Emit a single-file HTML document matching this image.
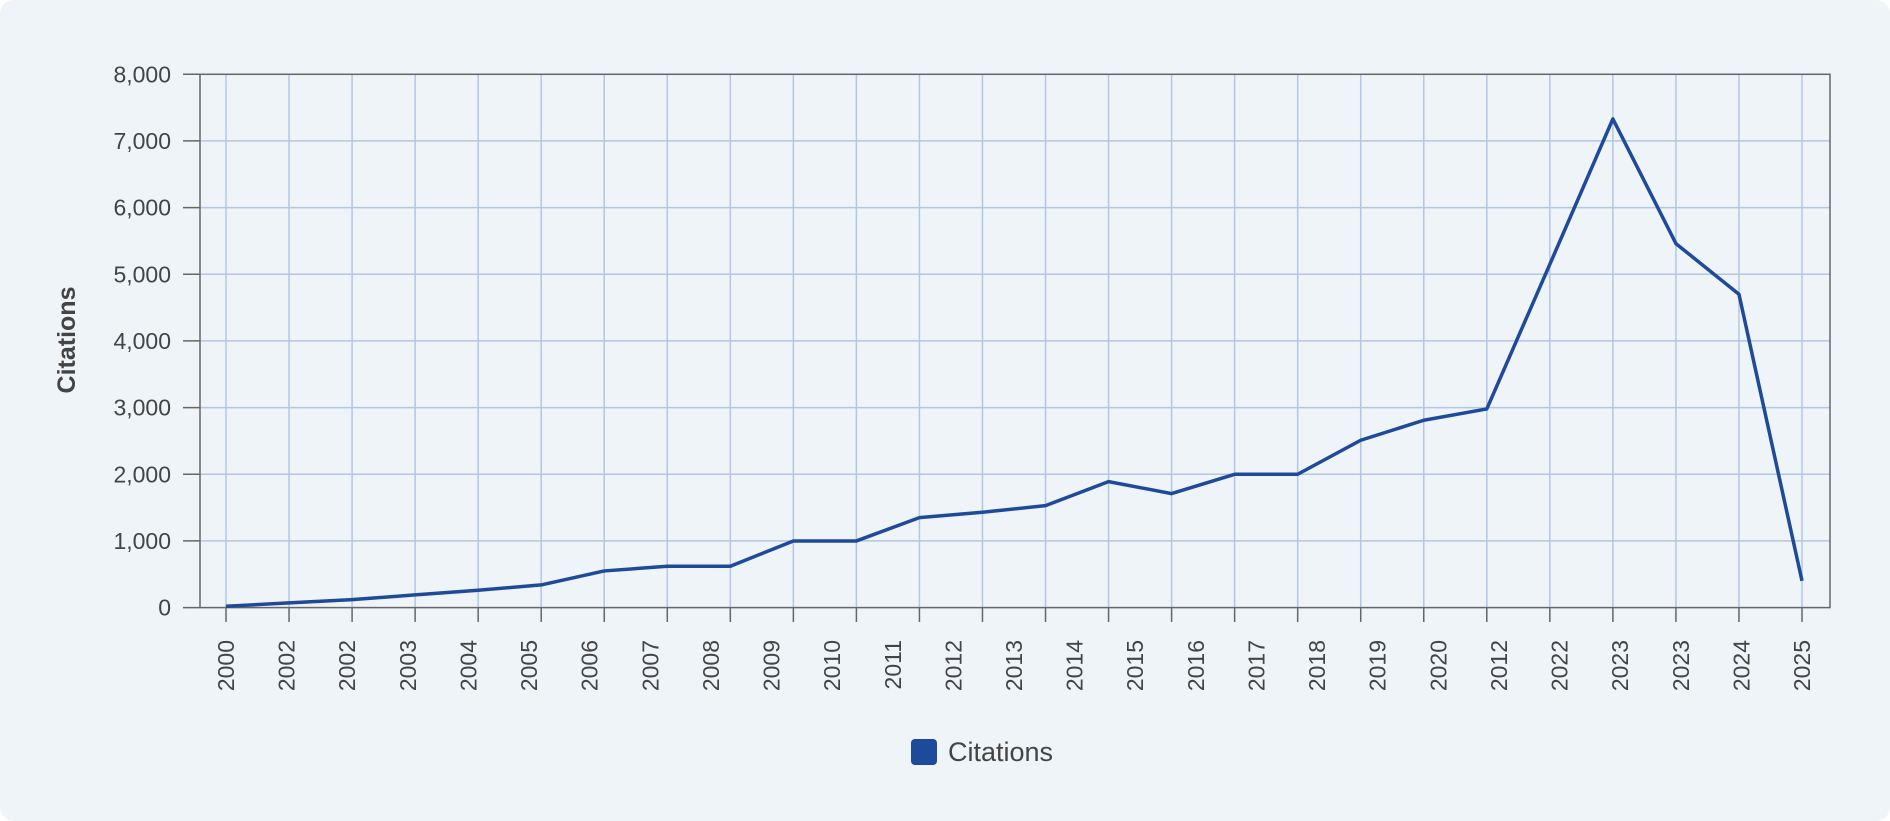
<!DOCTYPE html>
<html><head><meta charset="utf-8"><style>
html,body{margin:0;padding:0;background:#fff;}
.card{position:absolute;left:0;top:0;width:1890px;height:821px;background:#eff4f9;border-radius:14px;}
svg{position:absolute;left:0;top:0;}
text{font-family:"Liberation Sans",sans-serif;fill:#444;}
</style></head><body><div class="card"></div>
<svg width="1890" height="821" viewBox="0 0 1890 821">
<g stroke="#b3c6e2" stroke-width="1.5">
<line x1="226" y1="74.3" x2="226" y2="607.6"/><line x1="289.04" y1="74.3" x2="289.04" y2="607.6"/><line x1="352.08" y1="74.3" x2="352.08" y2="607.6"/><line x1="415.12" y1="74.3" x2="415.12" y2="607.6"/><line x1="478.16" y1="74.3" x2="478.16" y2="607.6"/><line x1="541.2" y1="74.3" x2="541.2" y2="607.6"/><line x1="604.24" y1="74.3" x2="604.24" y2="607.6"/><line x1="667.28" y1="74.3" x2="667.28" y2="607.6"/><line x1="730.32" y1="74.3" x2="730.32" y2="607.6"/><line x1="793.36" y1="74.3" x2="793.36" y2="607.6"/><line x1="856.4" y1="74.3" x2="856.4" y2="607.6"/><line x1="919.44" y1="74.3" x2="919.44" y2="607.6"/><line x1="982.48" y1="74.3" x2="982.48" y2="607.6"/><line x1="1045.52" y1="74.3" x2="1045.52" y2="607.6"/><line x1="1108.56" y1="74.3" x2="1108.56" y2="607.6"/><line x1="1171.6" y1="74.3" x2="1171.6" y2="607.6"/><line x1="1234.64" y1="74.3" x2="1234.64" y2="607.6"/><line x1="1297.68" y1="74.3" x2="1297.68" y2="607.6"/><line x1="1360.72" y1="74.3" x2="1360.72" y2="607.6"/><line x1="1423.76" y1="74.3" x2="1423.76" y2="607.6"/><line x1="1486.8" y1="74.3" x2="1486.8" y2="607.6"/><line x1="1549.84" y1="74.3" x2="1549.84" y2="607.6"/><line x1="1612.88" y1="74.3" x2="1612.88" y2="607.6"/><line x1="1675.92" y1="74.3" x2="1675.92" y2="607.6"/><line x1="1738.96" y1="74.3" x2="1738.96" y2="607.6"/><line x1="1802" y1="74.3" x2="1802" y2="607.6"/>
<line x1="200" y1="540.9" x2="1830" y2="540.9"/><line x1="200" y1="474.3" x2="1830" y2="474.3"/><line x1="200" y1="407.6" x2="1830" y2="407.6"/><line x1="200" y1="340.9" x2="1830" y2="340.9"/><line x1="200" y1="274.3" x2="1830" y2="274.3"/><line x1="200" y1="207.6" x2="1830" y2="207.6"/><line x1="200" y1="140.9" x2="1830" y2="140.9"/>
</g>
<g stroke="#666" stroke-width="1.5">
<line x1="226" y1="607.6" x2="226" y2="622"/><line x1="289.04" y1="607.6" x2="289.04" y2="622"/><line x1="352.08" y1="607.6" x2="352.08" y2="622"/><line x1="415.12" y1="607.6" x2="415.12" y2="622"/><line x1="478.16" y1="607.6" x2="478.16" y2="622"/><line x1="541.2" y1="607.6" x2="541.2" y2="622"/><line x1="604.24" y1="607.6" x2="604.24" y2="622"/><line x1="667.28" y1="607.6" x2="667.28" y2="622"/><line x1="730.32" y1="607.6" x2="730.32" y2="622"/><line x1="793.36" y1="607.6" x2="793.36" y2="622"/><line x1="856.4" y1="607.6" x2="856.4" y2="622"/><line x1="919.44" y1="607.6" x2="919.44" y2="622"/><line x1="982.48" y1="607.6" x2="982.48" y2="622"/><line x1="1045.52" y1="607.6" x2="1045.52" y2="622"/><line x1="1108.56" y1="607.6" x2="1108.56" y2="622"/><line x1="1171.6" y1="607.6" x2="1171.6" y2="622"/><line x1="1234.64" y1="607.6" x2="1234.64" y2="622"/><line x1="1297.68" y1="607.6" x2="1297.68" y2="622"/><line x1="1360.72" y1="607.6" x2="1360.72" y2="622"/><line x1="1423.76" y1="607.6" x2="1423.76" y2="622"/><line x1="1486.8" y1="607.6" x2="1486.8" y2="622"/><line x1="1549.84" y1="607.6" x2="1549.84" y2="622"/><line x1="1612.88" y1="607.6" x2="1612.88" y2="622"/><line x1="1675.92" y1="607.6" x2="1675.92" y2="622"/><line x1="1738.96" y1="607.6" x2="1738.96" y2="622"/><line x1="1802" y1="607.6" x2="1802" y2="622"/>
<line x1="183" y1="607.6" x2="200" y2="607.6"/><line x1="183" y1="540.9" x2="200" y2="540.9"/><line x1="183" y1="474.3" x2="200" y2="474.3"/><line x1="183" y1="407.6" x2="200" y2="407.6"/><line x1="183" y1="340.9" x2="200" y2="340.9"/><line x1="183" y1="274.3" x2="200" y2="274.3"/><line x1="183" y1="207.6" x2="200" y2="207.6"/><line x1="183" y1="140.9" x2="200" y2="140.9"/><line x1="183" y1="74.3" x2="200" y2="74.3"/>
<rect x="200" y="74.3" width="1630" height="533.3" fill="none"/>
</g>
<g font-size="23" text-anchor="end">
<text x="171" y="615.6">0</text><text x="171" y="548.9">1,000</text><text x="171" y="482.3">2,000</text><text x="171" y="415.6">3,000</text><text x="171" y="348.9">4,000</text><text x="171" y="282.3">5,000</text><text x="171" y="215.6">6,000</text><text x="171" y="148.9">7,000</text><text x="171" y="82.3">8,000</text>
</g>
<g font-size="23" text-anchor="end">
<text transform="translate(234,640) rotate(-90)">2000</text>
<text transform="translate(294.6,640) rotate(-90)">2002</text>
<text transform="translate(355.2,640) rotate(-90)">2002</text>
<text transform="translate(415.8,640) rotate(-90)">2003</text>
<text transform="translate(476.5,640) rotate(-90)">2004</text>
<text transform="translate(537.1,640) rotate(-90)">2005</text>
<text transform="translate(597.7,640) rotate(-90)">2006</text>
<text transform="translate(658.3,640) rotate(-90)">2007</text>
<text transform="translate(718.9,640) rotate(-90)">2008</text>
<text transform="translate(779.5,640) rotate(-90)">2009</text>
<text transform="translate(840.2,640) rotate(-90)">2010</text>
<text transform="translate(900.8,640) rotate(-90)">2011</text>
<text transform="translate(961.4,640) rotate(-90)">2012</text>
<text transform="translate(1022,640) rotate(-90)">2013</text>
<text transform="translate(1082.6,640) rotate(-90)">2014</text>
<text transform="translate(1143.2,640) rotate(-90)">2015</text>
<text transform="translate(1203.8,640) rotate(-90)">2016</text>
<text transform="translate(1264.5,640) rotate(-90)">2017</text>
<text transform="translate(1325.1,640) rotate(-90)">2018</text>
<text transform="translate(1385.7,640) rotate(-90)">2019</text>
<text transform="translate(1446.3,640) rotate(-90)">2020</text>
<text transform="translate(1506.9,640) rotate(-90)">2012</text>
<text transform="translate(1567.5,640) rotate(-90)">2022</text>
<text transform="translate(1628.1,640) rotate(-90)">2023</text>
<text transform="translate(1688.8,640) rotate(-90)">2023</text>
<text transform="translate(1749.4,640) rotate(-90)">2024</text>
<text transform="translate(1810,640) rotate(-90)">2025</text>
</g>
<polyline fill="none" stroke="#1f4a9a" stroke-width="3.5" stroke-linejoin="round" points="226,606.27 289.04,602.93 352.08,599.6 415.12,594.93 478.16,590.27 541.2,584.93 604.24,570.94 667.28,566.27 730.32,566.27 793.36,540.94 856.4,540.94 919.44,517.6 982.48,512.27 1045.52,505.6 1108.56,481.6 1171.6,493.6 1234.64,474.27 1297.68,474.27 1360.72,440.26 1423.76,420.26 1486.8,408.93 1549.84,264.3 1612.88,118.9 1675.92,243.6 1738.96,294.3 1802,580.9"/>
<text transform="translate(75,340) rotate(-90)" text-anchor="middle" font-size="25" font-weight="bold">Citations</text>
<rect x="911" y="739" width="26" height="26" rx="4" fill="#1f4a9a"/>
<text x="948" y="761" font-size="27">Citations</text>
</svg></body></html>
